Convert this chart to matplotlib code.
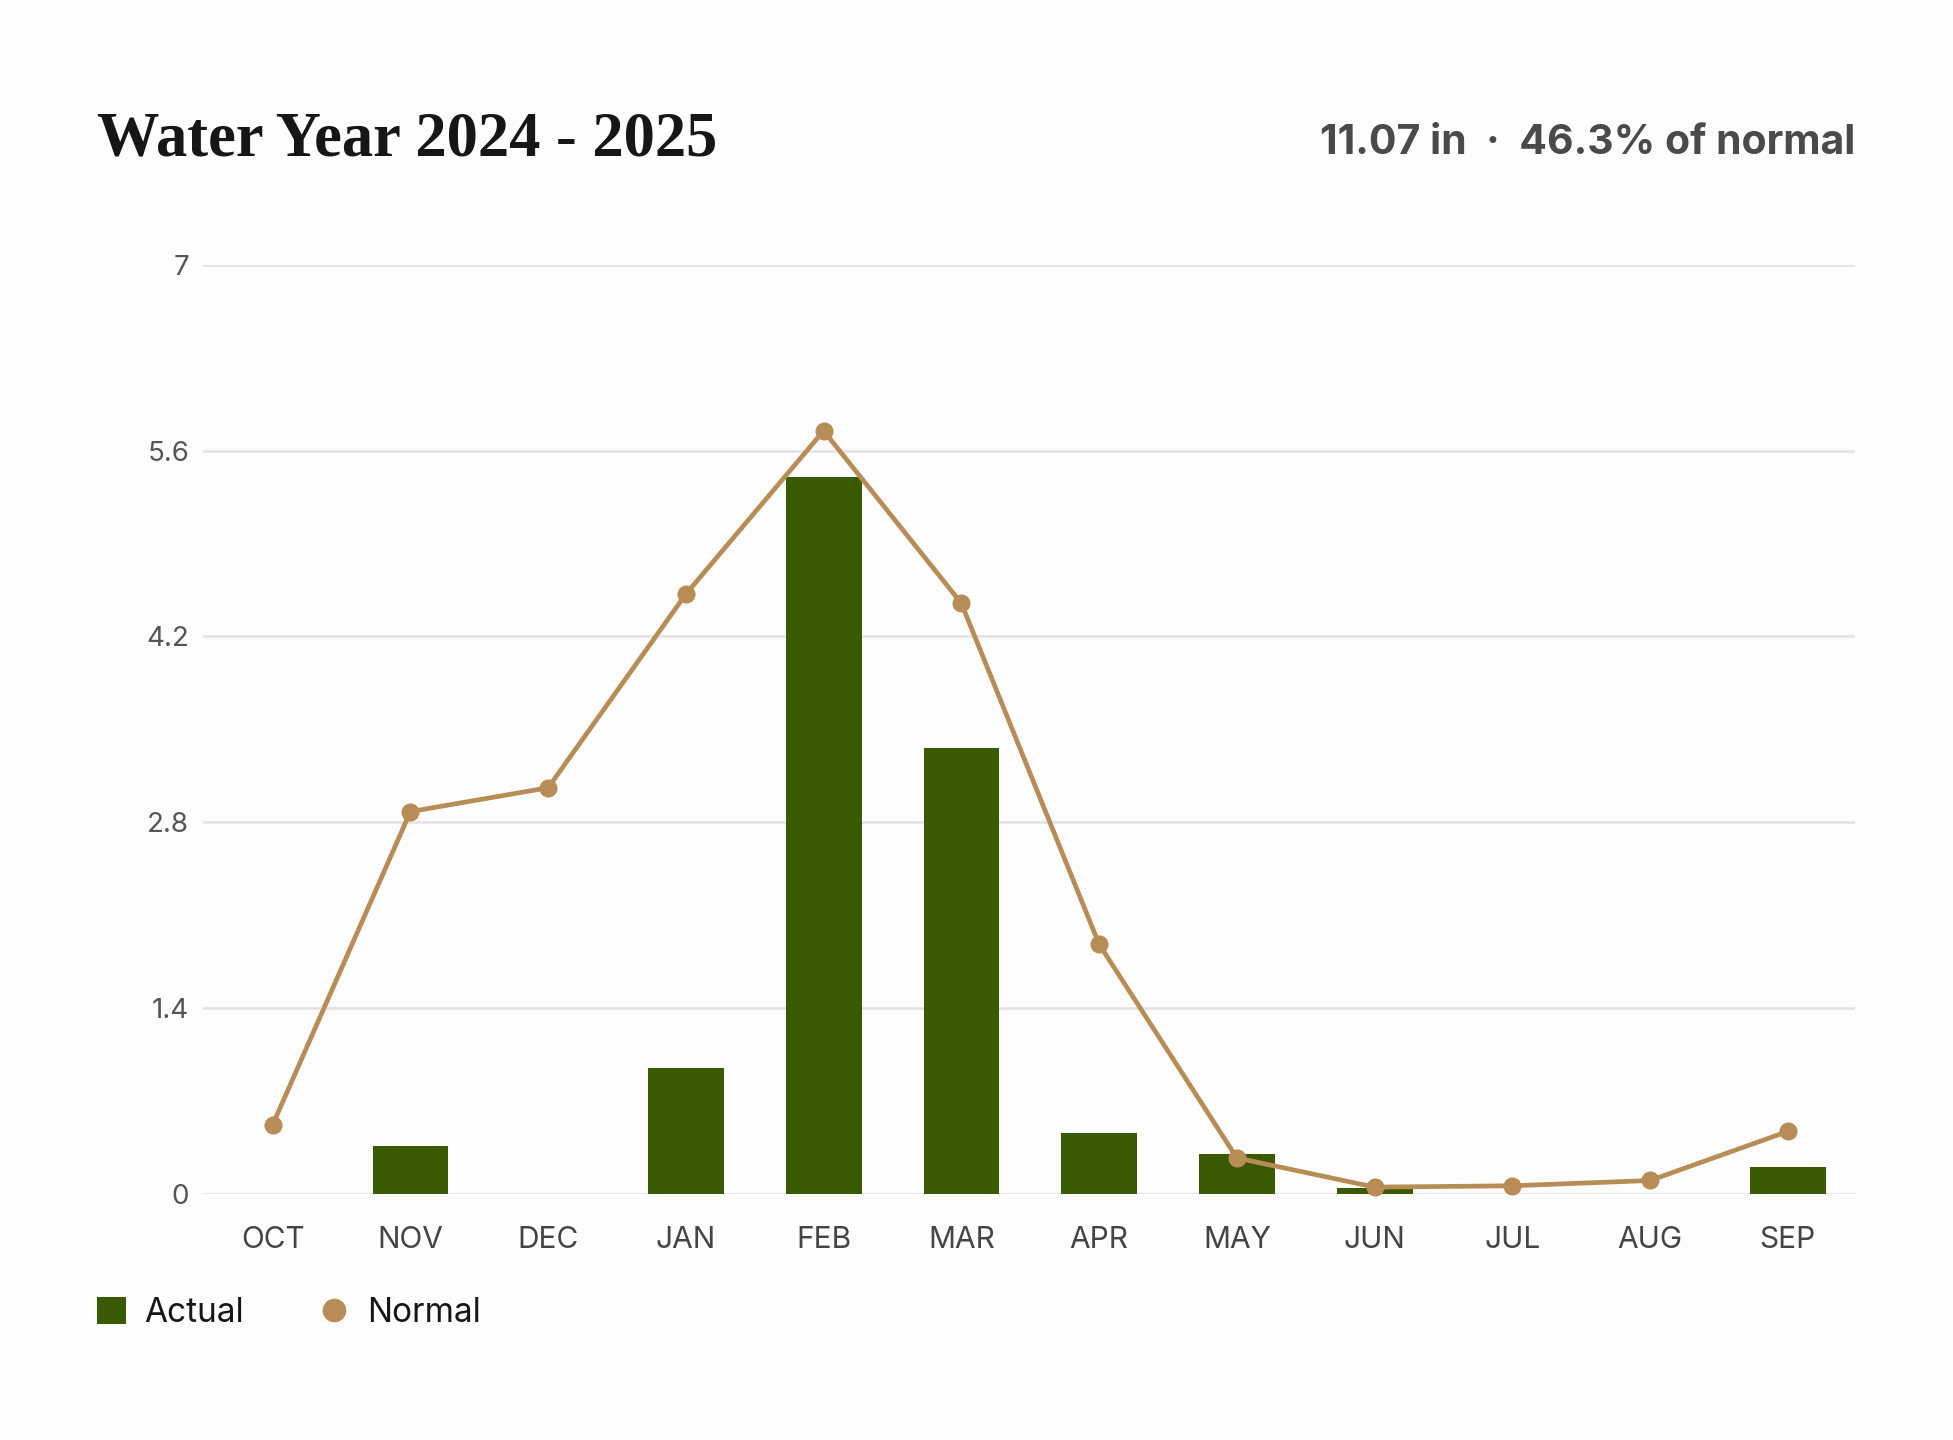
import numpy as np
import matplotlib.pyplot as plt
from matplotlib.patches import Patch
from matplotlib.lines import Line2D

months = ["OCT", "NOV", "DEC", "JAN", "FEB", "MAR", "APR", "MAY", "JUN", "JUL", "AUG", "SEP"]
actual = [0.0, 0.36, 0.0, 0.95, 5.40, 3.36, 0.46, 0.30, 0.04, 0.0, 0.0, 0.20]
normal = [0.52, 2.88, 3.06, 4.52, 5.75, 4.45, 1.88, 0.27, 0.05, 0.06, 0.10, 0.47]
yticks = [0, 1.4, 2.8, 4.2, 5.6, 7]
ytick_labels = ["0", "1.4", "2.8", "4.2", "5.6", "7"]

title = "Water Year 2024 - 2025"
summary = "11.07 in  \u00b7  46.3% of normal"

green = "#3a5a00"
tan = "#b88d55"
bg = "#fefdfe"

plt.rcParams['font.family'] = ['Inter', 'DejaVu Sans']

fig = plt.figure(figsize=(19.53, 14.4), dpi=100, facecolor=bg)
ax = fig.add_axes([0.104, 0.171, 0.846, 0.645])
ax.set_facecolor(bg)

x = np.arange(len(months))
ax.bar(x, actual, width=0.55, color=green, zorder=2)
ax.plot(x, normal, color=tan, linewidth=3.4, marker="o", markersize=12,
        zorder=3, clip_on=False)

ax.set_xlim(-0.505, 11.49)
ax.set_ylim(0, 7)
ax.set_yticks(yticks)
ax.set_yticklabels(ytick_labels)
ax.set_xticks(x)
ax.set_xticklabels(months)
ax.tick_params(axis="y", length=0, pad=10, labelsize=20, labelcolor="#555555")
ax.tick_params(axis="x", length=0, pad=23, labelsize=21.5, labelcolor="#444444")
ax.grid(axis="y", color="#e3e1e6", linewidth=1.8, zorder=0)
for s in ax.spines.values():
    s.set_visible(False)

fig.text(0.0497, 0.892, title, family=["Liberation Serif", "DejaVu Serif"],
         fontweight="bold", fontsize=45, color="#161616", ha="left", va="baseline")
fig.text(0.950, 0.893, summary, fontweight="bold", fontsize=29.5,
         color="#4a4a4a", ha="right", va="baseline")

handles = [Patch(facecolor=green, edgecolor="none"),
           Line2D([], [], marker="o", color="none", markerfacecolor=tan,
                  markeredgecolor="none", markersize=17)]
fig.legend(handles, ["Actual", "Normal"], loc="center left",
           bbox_to_anchor=(0.0344, 0.088), ncol=2, frameon=False,
           fontsize=24, handlelength=0.85, handleheight=0.85,
           handletextpad=0.55, columnspacing=2.3, labelcolor="#161616")

fig.savefig("out.png", dpi=100, facecolor=bg)
